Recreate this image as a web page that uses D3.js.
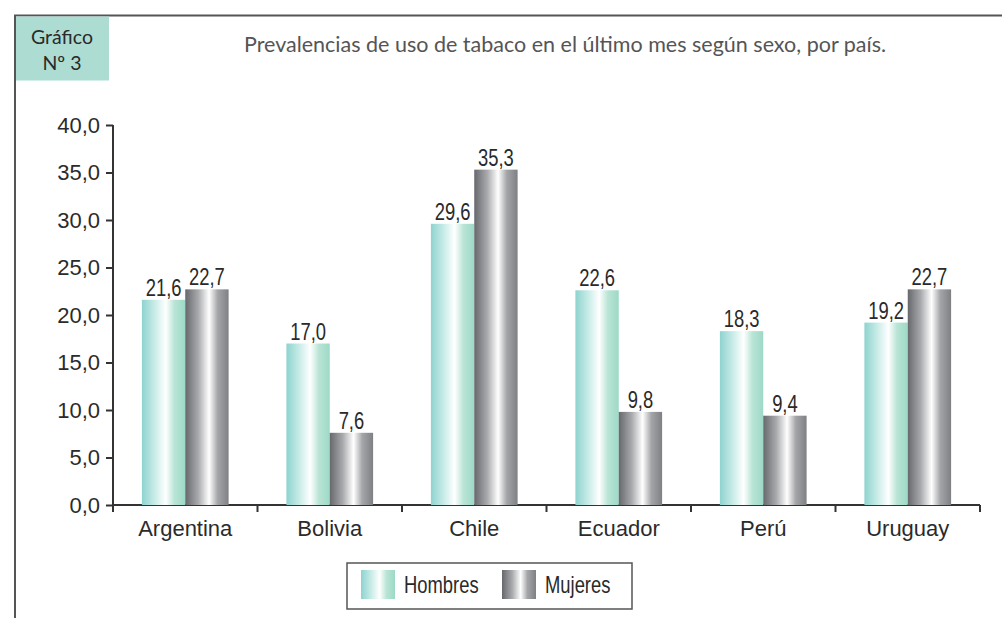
<!DOCTYPE html>
<html lang="es">
<head>
<meta charset="UTF-8">
<title>Prevalencias de uso de tabaco</title>
<script src="https://d3js.org/d3.v7.min.js"></script>
<style>
    body { margin: 0; background: #fff; }
    svg { display: block; }
    .axis text { font-family: "Liberation Sans", Arial, sans-serif; font-size: 22px; fill: #2b2b2b; }
    .axis path, .axis line { stroke: #333; stroke-width: 2px; }
    .val { font-family: "Liberation Sans", Arial, sans-serif; font-size: 23px; fill: #2a2a2a; }
    .legend text { font-family: "Liberation Sans", Arial, sans-serif; font-size: 23px; fill: #2a2a2a; }
    .gill { font-family: Lato, "Open Sans", sans-serif; }
</style>
</head>
<body>
<div id="chart"></div>
<script>
    // data
    const countries = ["Argentina", "Bolivia", "Chile", "Ecuador", "Perú", "Uruguay"];
    const series = ["Hombres", "Mujeres"];
    const hombres = [21.6, 17.0, 29.6, 22.6, 18.3, 19.2];
    const mujeres = [22.7, 7.6, 35.3, 9.8, 9.4, 22.7];
    const yTicks = [0, 5, 10, 15, 20, 25, 30, 35, 40];
    const title = "Prevalencias de uso de tabaco en el último mes según sexo, por país.";

    const width = 1002, height = 618;
    const margin = { top: 125, right: 22, bottom: 113, left: 113 };
    const narrow = 0.8; // condensed look of the labels

    const svg = d3.select("#chart").append("svg")
        .attr("width", width)
        .attr("height", height);

    const comma = d3.formatLocale({ decimal: ",", thousands: ".", grouping: [3], currency: ["", ""] }).format(".1f");

    // gradients
    const defs = svg.append("defs");
    const grads = {
        Hombres: ["#8ed3cf", "#c9ece8", "#ffffff", "#b9e4d6", "#9dd9c6"],
        Mujeres: ["#67686c", "#a9aaad", "#ffffff", "#a4a5a8", "#7f8084"]
    };
    const stops = [0, 0.3, 0.55, 0.75, 1];
    Object.keys(grads).forEach(k => {
        const g = defs.append("linearGradient").attr("id", "g-" + k)
            .attr("x1", "0%").attr("x2", "100%").attr("y1", "0%").attr("y2", "0%");
        grads[k].forEach((c, i) => g.append("stop").attr("offset", stops[i]).attr("stop-color", c));
    });

    // frame + badge + title
    svg.append("line").attr("x1", 14).attr("x2", width).attr("y1", 15.5).attr("y2", 15.5)
        .attr("stroke", "#555").attr("stroke-width", 2);
    svg.append("line").attr("x1", 15).attr("x2", 15).attr("y1", 15).attr("y2", height)
        .attr("stroke", "#555").attr("stroke-width", 2);
    svg.append("rect").attr("x", 16).attr("y", 16.5).attr("width", 93).attr("height", 64)
        .attr("fill", "#acdcd2");
    svg.append("text").attr("class", "gill").attr("x", 62).attr("y", 44)
        .attr("text-anchor", "middle").attr("font-size", 19.5).attr("fill", "#2a2a2a").text("Gráfico");
    svg.append("text").attr("class", "gill").attr("x", 62).attr("y", 70)
        .attr("text-anchor", "middle").attr("font-size", 19.5).attr("fill", "#2a2a2a").text("Nº 3");
    svg.append("text").attr("class", "gill").attr("x", 565).attr("y", 52)
        .attr("text-anchor", "middle").attr("font-size", 21.5)
        .attr("fill", "#555").text(title);

    // scales
    const x0 = d3.scaleBand().domain(countries).range([margin.left, width - margin.right]);
    const x1 = d3.scaleBand().domain(series).range([x0.bandwidth() * 0.2, x0.bandwidth() * 0.8]);
    const y = d3.scaleLinear().domain([0, 40]).range([height - margin.bottom, margin.top]);

    // axes
    const yAxis = svg.append("g").attr("class", "axis")
        .attr("transform", `translate(${margin.left},0)`)
        .call(d3.axisLeft(y).tickValues(yTicks).tickFormat(comma).tickSize(7).tickPadding(6));
    yAxis.select(".domain").attr("d", `M0,${y(40)}V${y(0) + 7}`);

    const xAxis = svg.append("g").attr("class", "axis")
        .attr("transform", `translate(0,${y(0)})`);
    xAxis.append("line").attr("x1", margin.left).attr("x2", width - margin.right);
    const bounds = countries.map(c => x0(c) + x0.bandwidth());
    xAxis.selectAll(".tk").data(bounds).enter().append("line")
        .attr("x1", d => d).attr("x2", d => d).attr("y1", 0).attr("y2", 7);
    xAxis.selectAll(".cat").data(countries).enter().append("text")
        .attr("x", d => x0(d) + x0.bandwidth() / 2).attr("y", 31)
        .attr("text-anchor", "middle").text(d => d);

    // bars
    const rows = countries.map((c, i) => ({ country: c, values: [
        { key: "Hombres", v: hombres[i] }, { key: "Mujeres", v: mujeres[i] }] }));
    const groups = svg.selectAll(".grp").data(rows).enter().append("g")
        .attr("transform", d => `translate(${x0(d.country)},0)`);
    groups.selectAll("rect").data(d => d.values).enter().append("rect")
        .attr("x", d => x1(d.key)).attr("width", x1.bandwidth())
        .attr("y", d => y(d.v)).attr("height", d => y(0) - y(d.v))
        .attr("fill", d => `url(#g-${d.key})`);
    groups.selectAll(".val").data(d => d.values).enter().append("text")
        .attr("class", "val")
        .attr("transform", d => `translate(${x1(d.key) + x1.bandwidth() / 2},${y(d.v) - 4}) scale(${narrow},1)`)
        .attr("text-anchor", "middle").text(d => comma(d.v));

    // legend
    const lg = svg.append("g").attr("class", "legend");
    lg.append("rect").attr("x", 347).attr("y", 563).attr("width", 285).attr("height", 46)
        .attr("fill", "#fff").attr("stroke", "#555").attr("stroke-width", 1.5);
    const items = lg.selectAll(".it").data(series).enter().append("g")
        .attr("transform", (d, i) => `translate(${361 + i * 141},570)`);
    items.append("rect").attr("width", 34).attr("height", 29).attr("fill", d => `url(#g-${d})`);
    items.append("text").attr("transform", `translate(43,23) scale(${narrow},1)`).text(d => d);
</script>
</body>
</html>
